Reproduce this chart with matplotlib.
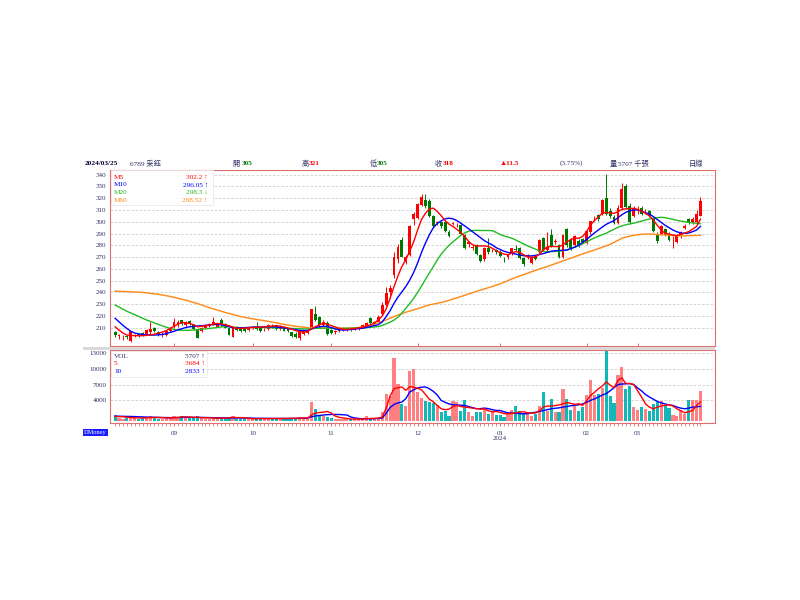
import matplotlib.pyplot as plt
import numpy as np
from matplotlib.patches import Rectangle

plt.rcParams['font.family'] = ['Liberation Serif', 'Noto Sans CJK TC', 'DejaVu Sans']

# ---- data (6789, daily, 2023/08 - 2024/03/25) ----
opens = [206, 203, 202, 203, 199, 203, 204.5, 205.5, 204, 206,
         210, 206, 203.5, 204, 207, 211, 212, 216.5, 212, 215.5,
         212, 209, 207, 210, 211.5, 213, 211, 217, 213, 210,
         202.5, 211, 210, 209, 208, 210, 211, 210, 208, 209,
         211.5, 212, 209, 211, 209, 206, 205, 201, 205, 205.5,
         211, 222, 219, 212, 214, 208, 206, 207.5, 209, 208,
         210, 208.5, 209.5, 210, 211, 218, 213, 215, 222, 229.5,
         240, 255, 268, 284.5, 266, 272, 302, 303, 314.5, 318.5,
         318, 305, 299, 300, 300, 291.5, 298, 297, 297, 289,
         281, 278, 280, 272, 268, 278, 275, 276, 274.5, 268.5,
         270, 273, 277, 277.5, 269, 270, 265, 271, 274, 286,
         276, 288.5, 283, 280, 270, 293.5, 284.5, 280, 284, 285.5,
         282, 291.5, 303, 305.5, 307, 320.5, 309, 304, 299, 311.5,
         330.5, 313, 304.5, 310, 311.5, 309, 309.5, 303, 290, 290,
         294, 290, 286, 283, 288.5, 295, 302, 299, 300, 305]
highs = [207.5, 205, 204, 203.5, 207.5, 205, 205, 206, 209, 215,
         211, 207, 206, 208, 211, 218, 217, 217, 216, 216.5,
         213, 209.5, 211, 213, 214, 219, 213, 218, 214, 210.5,
         211, 211.5, 210.5, 209.5, 211, 211.5, 215, 210.5, 210, 213,
         213, 212.5, 212, 211.5, 209.5, 206.5, 206, 208, 208, 208,
         226, 228.5, 220, 217, 215.5, 209, 208.5, 210.5, 211, 210.5,
         211, 210.5, 211, 213, 215, 219, 216, 220.5, 232, 245,
         246, 274, 281, 287, 272, 297, 308.5, 316, 324, 324,
         319, 306, 301, 301, 301, 293, 300, 299, 298, 290,
         284, 280, 281, 273, 279, 286, 277, 277, 276, 270,
         272.5, 278, 280, 278.5, 270, 272.5, 271, 272, 285, 287,
         291, 293.5, 285, 281, 290, 295, 286, 289, 285, 286,
         293, 301, 305, 307, 319, 341, 312, 306, 314, 333,
         332, 316, 313, 313, 313, 311, 310, 304, 291, 297,
         295, 291, 288, 290, 292.5, 298, 303, 304, 310, 321]
lows = [202, 200.5, 199.5, 200.5, 198, 202, 202.5, 203, 203.5, 205,
        206, 203, 202, 203, 206, 210, 211, 212, 211, 212.5,
        208, 201, 206, 209.5, 211, 212.5, 210.5, 211.5, 209.5, 203.5,
        202, 207, 206.5, 206, 207.5, 209, 208.5, 206.5, 207, 208.5,
        210, 208, 208.5, 207, 206, 202.5, 201, 200, 204, 204.5,
        210.5, 215.5, 211, 211.5, 204, 205, 205, 206.5, 207.5, 207.5,
        207.5, 208, 208.5, 209.5, 210.5, 213.5, 212.5, 214.5, 221, 228.5,
        238, 252, 265, 270, 264, 271, 297.5, 302, 313, 312,
        304, 295, 297, 295, 291, 287, 297, 295.5, 289, 277,
        279, 276, 272, 266, 267, 273, 274, 273, 270, 266,
        268.5, 272, 275, 268, 262.5, 268, 264, 267.5, 273, 275,
        275, 278.5, 281, 269, 269, 279, 276, 279, 279, 282,
        281, 290, 301, 301, 306, 306, 303, 298, 298, 310,
        311, 298, 304, 307, 306, 307, 304, 291, 282, 289,
        288, 283.5, 277.5, 282, 286, 294, 298, 298, 299, 305]
closes = [204, 203.5, 202.5, 202, 207, 204, 203.5, 204.5, 208, 209,
          207, 203.5, 205, 207, 210, 215, 215, 213.5, 215, 213,
          209, 201.5, 210, 212, 213, 214.5, 212.5, 212, 210, 204,
          210, 208, 207, 207, 210, 210.5, 209, 207, 208.5, 212,
          211, 209, 211, 207.5, 207, 203, 202, 207, 207, 207.5,
          225.5, 216.5, 212, 215, 205, 205.5, 207.5, 209.5, 209, 209.5,
          208.5, 209.5, 210, 212, 214, 214, 215, 219.5, 229, 239.5,
          244, 270.5, 279, 270.5, 270.5, 296, 307, 315, 321, 313,
          305, 296, 299.5, 296, 292, 288, 299, 297.5, 290, 277.5,
          282.5, 278, 273, 267, 277.5, 274, 275.5, 274, 271, 268,
          271.5, 277.5, 276, 269, 264, 271.5, 269.5, 268, 284.5, 276,
          279, 279.5, 283.5, 270, 288.5, 280.5, 277.5, 288, 280.5, 283,
          292, 300.5, 303.5, 302, 318.5, 307, 304.5, 299, 312, 327.5,
          312.5, 300, 311, 310.5, 306.5, 309.5, 305, 292, 283.5, 296,
          289, 284.5, 286.5, 288.5, 291.5, 296, 299, 302, 306.5, 318]
volume = [1150, 700, 500, 650, 800, 600, 450, 550, 700, 1000,
          750, 500, 400, 600, 700, 900, 800, 1000, 700, 600,
          550, 900, 600, 500, 450, 650, 500, 700, 550, 800,
          1000, 500, 400, 450, 500, 400, 550, 600, 400, 550,
          450, 500, 600, 550, 400, 600, 650, 800, 500, 450,
          3700, 2400, 1100, 900, 800, 600, 400, 450, 400, 350,
          450, 400, 350, 500, 900, 600, 550, 700, 1700, 5260,
          4800, 12000, 7180, 3330, 2900, 9550, 10060, 5580, 4490, 3850,
          3650, 3460, 3010, 1730, 1860, 960, 3780, 3650, 1860, 3970,
          1730, 960, 1730, 1730, 2370, 1410, 1730, 1090, 1090, 770,
          1410, 2050, 2880, 1860, 1410, 1730, 960, 1410, 2880, 5580,
          1860, 4170, 1730, 1730, 6220, 4170, 2050, 2880, 1860, 2690,
          4940, 7820, 5060, 5260, 6350, 13400, 4810, 3530, 8910, 10380,
          6090, 6730, 2690, 2050, 2690, 2240, 1860, 3330, 3650, 3780,
          3010, 2500, 1220, 960, 2050, 1410, 3970, 3970, 3970, 5707]

# moving averages as drawn on the reference
m5 = [210.8, 208, 205.5, 203.8, 203.5, 203.3, 203.2, 203.3, 203.5, 203.8,
      204.5, 205.4, 206.3, 207.5, 209.5, 211.3, 213, 214.5, 214.2, 213.7,
      212.5, 210.8, 211.2, 211.8, 212.3, 213, 213.7, 213.2, 212.5, 211.7,
      210.5, 209.4, 209.5, 209.7, 210, 210.2, 210.4, 210.6, 210.8, 211,
      211.4, 211.7, 211.3, 210.6, 209.8, 208.8, 207.6, 206.6, 206.5, 207,
      209, 211, 212.5, 213.9, 213, 211.8, 210.6, 209.5, 208.8, 208.7,
      209, 209.4, 209.9, 210.5, 211.5, 212.5, 214, 216.7, 220, 226,
      235, 245, 254, 262, 268, 275, 283, 293, 302, 307.3,
      311, 311.6, 308.8, 305.2, 301, 298, 296, 293.5, 291, 287.5,
      283.3, 280.4, 279.5, 279.5, 279.5, 279, 277.5, 275.5, 273.8, 272.5,
      272, 273.5, 274.6, 274, 272, 270, 269.8, 270, 272.5, 276,
      278.8, 279, 279, 278.8, 280.5, 283, 285, 286, 286, 287.5,
      291.6, 297.3, 301, 304, 307.2, 308, 307.5, 307.2, 308.5, 310.6,
      311, 311.3, 311.4, 310.5, 309, 307.2, 305, 301.5, 297, 293,
      290.2, 289.5, 288.8, 288.2, 289.2, 290.5, 291.6, 293.8, 296, 302.2]
m10 = [218, 215, 212, 209.4, 207, 205.5, 204.8, 204.3, 204, 203.8,
       203.8, 204, 204.3, 205, 206, 207, 208.2, 209.2, 210.2, 210.8,
       211.2, 211.5, 211.7, 212, 212.4, 212.7, 212.8, 212.5, 211.8, 211,
       210, 209.8, 209.9, 210.1, 210.3, 210.5, 210.6, 210.6, 210.7, 210.8,
       210.8, 210.7, 210.3, 209.8, 209.3, 208.8, 208.3, 207.8, 207.6, 207.6,
       209, 210.3, 210.8, 211.3, 211, 210.2, 209, 208.3, 208, 208.2,
       208.5, 208.8, 209.2, 209.6, 210.3, 211, 211.8, 212.6, 215, 219.5,
       224.5, 230.8, 236, 240.5, 245, 250.5, 257, 265, 274, 282,
       289, 295, 298.5, 300.8, 302.5, 303, 302.5, 301, 298.8, 296.5,
       294, 291.5, 289, 286.5, 284, 282, 280.4, 278, 276.5, 275,
       274, 273.2, 272.5, 271.8, 271.2, 271, 271, 271.5, 272.2, 273,
       274, 275, 275.4, 275.6, 275.8, 276, 277.2, 278.5, 280, 282.5,
       285, 287.8, 290.5, 293, 295.5, 297.8, 299.5, 301, 303.5, 306,
       308, 309.3, 310, 310, 309, 307.8, 306.5, 304.4, 302, 299.5,
       297, 295, 293, 291.5, 290.5, 290.2, 290.5, 291.6, 293, 296.05]
m20 = [229.3, 227.5, 225.8, 224, 222.5, 221, 219.5, 218, 216.6, 215.3,
       214, 212.8, 211.6, 210.5, 209.4, 208.5, 208, 207.8, 207.8, 207.9,
       208, 208.3, 208.7, 209, 209.4, 209.8, 210.2, 210.6, 211, 210.8,
       210.5, 210.2, 210, 210, 210.1, 210.2, 210.3, 210.3, 210.2, 210.1,
       210, 210, 209.9, 209.7, 209.5, 209.4, 209.3, 209.1, 209, 208.9,
       209.2, 209.5, 209.6, 209.7, 209.6, 209.5, 209.4, 209.4, 209.5, 209.5,
       209.6, 209.7, 209.8, 209.9, 210.1, 210.4, 210.7, 211, 212, 213.3,
       214.8, 216.5, 219, 222.5, 226.5, 230.5, 235, 240, 245.5, 251,
       256.5, 262, 267.5, 272.5, 276.5, 280, 283, 285.8, 288.5, 290.5,
       292, 292.6, 292.7, 292.6, 292.6, 292.6, 292.4, 291, 289.2, 288,
       287, 286, 284.5, 282.8, 281, 279.5, 278.2, 276.8, 275.2, 274.8,
       274.6, 274.6, 274.8, 275.1, 275.5, 276, 277.2, 278.4, 279.8, 281.3,
       283, 284.8, 286.3, 287.6, 289, 290.3, 292, 293.8, 295.3, 296.5,
       297.5, 298.2, 298.8, 299.7, 300.6, 301.5, 302.3, 303, 303.5, 303.8,
       303.5, 302.8, 302, 301.2, 300.6, 300, 299.5, 299.1, 298.7, 298.3]
m60 = [241, 241, 240.8, 240.7, 240.5, 240.4, 240.2, 240, 239.6, 239.2,
       238.8, 238.4, 237.8, 237.2, 236.6, 235.8, 235, 234.2, 233.4, 232.5,
       231.5, 230.5, 229.4, 228.2, 227, 226, 225, 224, 223, 222.2,
       221.3, 220.4, 219.5, 218.8, 218.2, 217.6, 217, 216.5, 216, 215.4,
       214.8, 214.2, 213.5, 212.9, 212.3, 211.7, 211.2, 210.8, 210.4, 210,
       209.9, 209.8, 209.7, 209.6, 209.6, 209.5, 209.5, 209.5, 209.6, 209.7,
       209.8, 210, 210.2, 210.5, 211.2, 212, 212.9, 214, 215.3, 216.7,
       218.1, 219.5, 220.8, 222, 223.2, 224.2, 225.2, 226.2, 227.3, 228.4,
       229.4, 230.1, 230.8, 231.5, 232.3, 233.3, 234.4, 235.4, 236.5, 237.6,
       238.7, 239.8, 240.9, 242, 243, 244, 245.1, 246.2, 247.3, 248.6,
       250, 251.5, 252.8, 254, 255.2, 256.4, 257.6, 258.8, 259.9, 261,
       262, 263.2, 264.4, 265.6, 266.8, 268, 269.2, 270.4, 271.6, 272.7,
       273.8, 274.9, 276, 277.2, 278.4, 279.6, 280.8, 282.5, 284.2, 286,
       287, 287.8, 288.5, 289, 289.4, 289.6, 289.6, 289.4, 289.2, 289,
       288.8, 288.6, 288.4, 288.2, 288.1, 288.1, 288.2, 288.3, 288.4, 288.52]
v5 = [900, 880, 850, 760, 700, 660, 620, 600, 640, 700,
      720, 700, 660, 650, 620, 660, 720, 820, 830, 800,
      730, 740, 670, 650, 640, 620, 560, 600, 570, 640,
      740, 670, 690, 630, 570, 450, 450, 490, 490, 510,
      500, 500, 520, 520, 530, 530, 570, 590, 630, 600,
      1200, 1570, 1650, 1730, 1850, 1560, 1000, 740, 630, 520,
      410, 410, 390, 410, 480, 520, 570, 580, 800, 2500,
      4800, 6200, 6400, 6540, 5900, 6600, 6500, 6300, 6000, 5100,
      4200, 3700, 3000, 2370, 2200, 2300, 2800, 3000, 2800, 2700,
      2600, 2500, 2400, 2300, 2370, 2000, 1800, 1850, 1700, 1450,
      1400, 1500, 1600, 1750, 1800, 1600, 1540, 1580, 2000, 2690,
      2900, 2880, 3000, 3100, 3330, 3550, 3400, 3200, 3330, 3010,
      3900, 4900, 5500, 6200, 6700, 7500, 6900, 6400, 7800, 8270,
      7200, 7200, 7000, 5800, 4620, 3300, 2690, 2370, 2700, 2900,
      3050, 3140, 2900, 2370, 2000, 1600, 1800, 2050, 3000, 3684]
v10 = [960, 950, 940, 920, 900, 880, 860, 820, 780, 760,
       740, 720, 700, 690, 680, 680, 690, 720, 740, 740,
       730, 720, 720, 700, 690, 670, 650, 640, 620, 620,
       640, 640, 620, 620, 600, 570, 560, 560, 540, 540,
       530, 520, 520, 520, 520, 520, 530, 550, 560, 570,
       850, 1000, 1100, 1180, 1250, 1280, 1280, 1280, 1230, 1180,
       800, 620, 520, 470, 450, 460, 480, 520, 600, 1500,
       2600, 3200, 3500, 3650, 4300, 5580, 6000, 6350, 6500, 6540,
       6200, 5700, 5000, 3970, 3600, 3300, 3140, 3100, 3050, 3010,
       2800, 2600, 2370, 2400, 2500, 2400, 2200, 2050, 2050, 1800,
       1600, 1540, 1500, 1450, 1410, 1450, 1600, 1700, 1860, 2000,
       2200, 2370, 2450, 2550, 2690, 2800, 2950, 3050, 3140, 3300,
       3600, 3970, 4250, 4600, 5000, 5260, 5800, 6400, 7000, 7100,
       7150, 7180, 7000, 6350, 5800, 5100, 4620, 4200, 3780, 3500,
       3300, 3100, 3010, 2700, 2500, 2370, 2500, 2690, 2750, 2833]

month_pos = [15, 35, 55, 77, 98, 120, 133]
month_lbl = ['09', '10', '11', '12', '01\n2024', '02', '03']
price_ticks = list(range(210, 341, 10))
vol_ticks = [4000, 7000, 10000, 13000]

RED, GREEN = '#ff0000', '#007800'
VRED, VTEAL = '#ff8080', '#12b8b8'
BORDER = '#e07070'
INK = '#333366'

W, H = 800, 600


def px(x, y):
    return x / W, 1 - y / H


def ptext(x, y, s, **kw):
    kw.setdefault('fontsize', 5.2)
    kw.setdefault('color', INK)
    kw.setdefault('va', 'center')
    fig.text(*px(x, y), s, **kw)


fig = plt.figure(figsize=(8, 6), dpi=100)
ax1 = fig.add_axes([110 / W, 1 - 346 / H, 605 / W, 176.5 / H])
ax2 = fig.add_axes([110 / W, 1 - 422.5 / H, 605 / W, 72.5 / H])

x = np.arange(len(closes))
o, h, l, c = (np.array(a, dtype=float) for a in (opens, highs, lows, closes))
up = c >= o
ccol = np.where(up, RED, GREEN)

# ---- price panel ----
ax1.vlines(x, l, h, colors=ccol, lw=0.7, zorder=3)
ax1.bar(x, np.maximum(np.abs(c - o), 0.4), bottom=np.minimum(o, c),
        width=0.74, color=ccol, lw=0, zorder=3)
ax1.plot(x, m60, color='#ff8c1a', lw=1.05, zorder=4)
ax1.plot(x, m20, color='#22bb22', lw=1.0, zorder=4)
ax1.plot(x, m10, color='#0000ff', lw=1.0, zorder=4)
ax1.plot(x, m5, color='#ff0000', lw=1.0, zorder=4)

ax1.set_xlim(-1.3, 152.7)
ax1.set_ylim(194.5, 344.4)
ax1.set_yticks(price_ticks)
ax1.yaxis.grid(True, ls=(0, (3, 2)), color='#cfcfcf', lw=0.6)
ax1.set_xticks(month_pos, [''] * len(month_pos))
ax1.tick_params(axis='x', direction='inout', length=4, color=BORDER, width=0.7)
ax1.tick_params(axis='y', length=0, pad=2.5, labelsize=5, labelcolor=INK)

# ---- volume panel ----
vcol = np.where(up, VRED, VTEAL)
ax2.bar(x, volume, width=0.8, color=vcol, lw=0, zorder=3)
ax2.plot(x, v10, color='#0000ff', lw=1.0, zorder=4)
ax2.plot(x, v5, color='#ff0000', lw=1.0, zorder=4)
ax2.set_xlim(-1.3, 152.7)
ax2.set_ylim(-250, 13600)
ax2.set_yticks(vol_ticks)
ax2.yaxis.grid(True, ls=(0, (3, 2)), color='#cfcfcf', lw=0.6)
ax2.set_xticks(month_pos, month_lbl)
ax2.set_xticks(x, minor=True)
ax2.tick_params(axis='x', which='major', length=2, color=BORDER, pad=4,
                labelsize=5, labelcolor=INK)
ax2.tick_params(axis='x', which='minor', length=2, color=BORDER, width=0.6)
ax2.tick_params(axis='y', length=0, pad=2.5, labelsize=5, labelcolor=INK)
for lab in ax2.get_xticklabels():
    lab.set_linespacing(1.0)

for ax in (ax1, ax2):
    for sp in ax.spines.values():
        sp.set_color(BORDER)
        sp.set_linewidth(0.8)

# separator strip between panels
fig.add_artist(Rectangle(px(83, 349.5), 632 / W, 2.5 / H, transform=fig.transFigure,
                         facecolor='#d9d9d9', edgecolor='none'))

# ---- legends ----
fig.add_artist(Rectangle(px(111, 205), 102 / W, 35 / H, transform=fig.transFigure,
                         facecolor='white', alpha=0.9, edgecolor='#e6e6e6', lw=0.6, zorder=5))
ma_rows = [('M5', '302.2 ↑', RED, 177.5), ('M10', '296.05 ↑', '#0000ff', 185),
           ('M20', '298.3 ↓', '#22bb22', 192.7), ('M60', '288.52 ↑', '#ff8c1a', 200.3)]
for name, val, col, yy in ma_rows:
    ptext(114, yy, name, color=col, zorder=6)
    ptext(208, yy, val, color=col, ha='right', zorder=6)

fig.add_artist(Rectangle(px(111, 377), 96 / W, 26 / H, transform=fig.transFigure,
                         facecolor='white', alpha=0.9, edgecolor='#e6e6e6', lw=0.6, zorder=5))
vol_rows = [('VOL', '5707 ↑', INK, 356), ('5', '3684 ↑', RED, 363.5),
            ('10', '2833 ↑', '#0000ff', 371.5)]
for name, val, col, yy in vol_rows:
    ptext(114, yy, name, color=col, zorder=6)
    ptext(205, yy, val, color=col, ha='right', zorder=6)

# ---- header ----
HY = 163
ptext(85, HY, '2024/03/25', fontweight='bold', color='#000033')
ptext(130, HY, '6789 采鈺')
ptext(232, HY, '開')
ptext(242, HY, '305', color=GREEN, fontweight='bold')
ptext(302, HY, '高')
ptext(309, HY, '321', color=RED, fontweight='bold')
ptext(370, HY, '低')
ptext(377, HY, '305', color=GREEN, fontweight='bold')
ptext(435, HY, '收')
ptext(443, HY, '318', color=RED, fontweight='bold')
ptext(500, HY, '▲11.5', color=RED, fontweight='bold')
ptext(560, HY, '(3.75%)')
ptext(610, HY, '量')
ptext(618, HY, '5707 千張')
ptext(703, HY, '日線', ha='right')

# DMoney tag
fig.text(*px(84, 432.5), 'DMoney', fontsize=4.6, color='white', va='center',
         bbox=dict(boxstyle='square,pad=0.15', facecolor='#1a1aff', edgecolor='none'))

fig.savefig('out.png', dpi=100)
